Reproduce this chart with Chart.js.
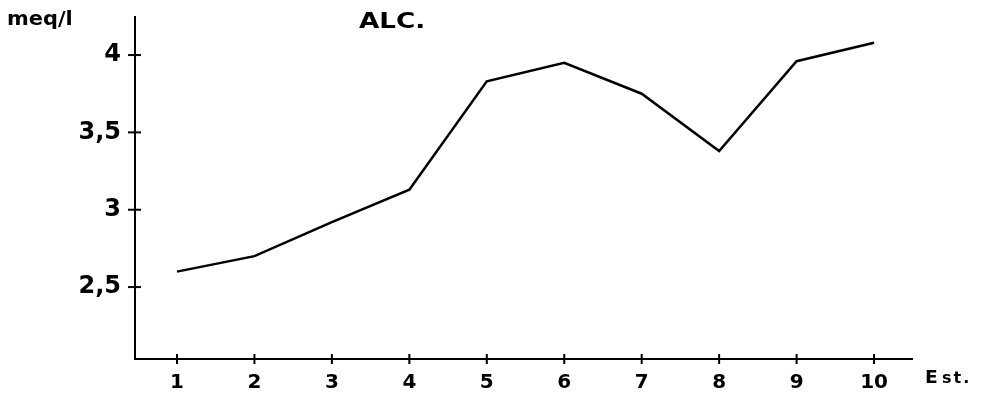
<!DOCTYPE html>
<html>
<head>
<meta charset="utf-8">
<script src="https://cdn.jsdelivr.net/npm/chart.js@4"></script>
<style>
  html, body { margin: 0; padding: 0; background: #fff; }
  #wrap { width: 986px; height: 399px; }
</style>
</head>
<body>
<div id="wrap"><canvas id="chart" width="986" height="399"></canvas></div>
<script>
// stations along the x axis and the alkalinity read at each one
const stations = [1, 2, 3, 4, 5, 6, 7, 8, 9, 10];
const alc = [2.6, 2.7, 2.92, 3.13, 3.83, 3.95, 3.75, 3.38, 3.96, 4.08];
const yTicks = [2.5, 3, 3.5, 4];

const FONT = '"DejaVu Sans", Verdana, sans-serif';

// the original lettering is a wide grotesque, so stretch it a little
const wideText = (ctx, text, x, y, size, sx, spacing) => {
    ctx.save();
    ctx.font = `bold ${size}px ${FONT}`;
    ctx.letterSpacing = (spacing || 0) + 'px';
    ctx.translate(x, y);
    ctx.scale(sx, 1);
    ctx.fillText(text, 0, 0);
    ctx.restore();
};

// tick marks crossing the axis lines, plus the loose labels
const annotate = {
    id: 'annotate',
    afterDraw(chart) {
        const { ctx, scales: { x, y }, chartArea } = chart;
        ctx.save();
        ctx.strokeStyle = '#000';
        ctx.lineWidth = 2;
        yTicks.forEach(v => {
            const py = y.getPixelForValue(v);
            ctx.beginPath();
            ctx.moveTo(chartArea.left - 7, py);
            ctx.lineTo(chartArea.left + 6, py);
            ctx.stroke();
        });
        stations.forEach(v => {
            const px = x.getPixelForValue(v);
            ctx.beginPath();
            ctx.moveTo(px, chartArea.bottom - 5);
            ctx.lineTo(px, chartArea.bottom + 5);
            ctx.stroke();
        });
        ctx.fillStyle = '#000';
        ctx.textBaseline = 'alphabetic';
        ctx.textAlign = 'left';
        wideText(ctx, 'meq/l', 7, 25, 19, 1.1);
        wideText(ctx, 'ALC.', 359, 28, 21, 1.25);
        wideText(ctx, 'E', 925, 383, 17, 1.1);
        wideText(ctx, 'st.', 942, 383, 16, 1.0, 2);
        ctx.restore();
    }
};

const ctx = document.getElementById('chart').getContext('2d');
const chart = new Chart(ctx, {
    type: 'line',
    data: {
        datasets: [{
            label: 'ALC.',
            data: stations.map((s, i) => ({ x: s, y: alc[i] })),
            borderColor: '#000',
            borderWidth: 2.5,
            pointRadius: 0,
            tension: 0,
            fill: false,
        }],
    },
    options: {
        responsive: false,
        animation: false,
        layout: { padding: { top: 17, right: 74, left: 0, bottom: 0 } },
        plugins: {
            legend: { display: false },
            tooltip: { enabled: false },
        },
        scales: {
            x: {
                type: 'linear',
                min: 0.458,
                max: 10.49,
                afterBuildTicks: s => { s.ticks = stations.map(v => ({ value: v })); },
                afterFit: s => {
                    s.height = 40;
                    s.paddingLeft = 0;
                    s.paddingRight = 0;
                },
                grid: { display: false, drawTicks: false },
                border: { color: '#000', width: 2 },
                ticks: {
                    color: '#000',
                    padding: 12,
                    maxRotation: 0,
                    font: { family: FONT, size: 20, weight: 'bold' },
                },
            },
            y: {
                min: 2.035,
                max: 4.246,
                afterBuildTicks: s => { s.ticks = yTicks.map(v => ({ value: v })); },
                afterFit: s => {
                    s.width = 135;
                    s.paddingTop = 0;
                    s.paddingBottom = 0;
                },
                grid: { display: false, drawTicks: false },
                border: { color: '#000', width: 2 },
                ticks: {
                    color: '#000',
                    padding: 14,
                    font: { family: FONT, size: 24, weight: 'bold' },
                    callback: v => String(v).replace('.', ','),
                },
            },
        },
    },
    plugins: [annotate],
});
</script>
</body>
</html>
